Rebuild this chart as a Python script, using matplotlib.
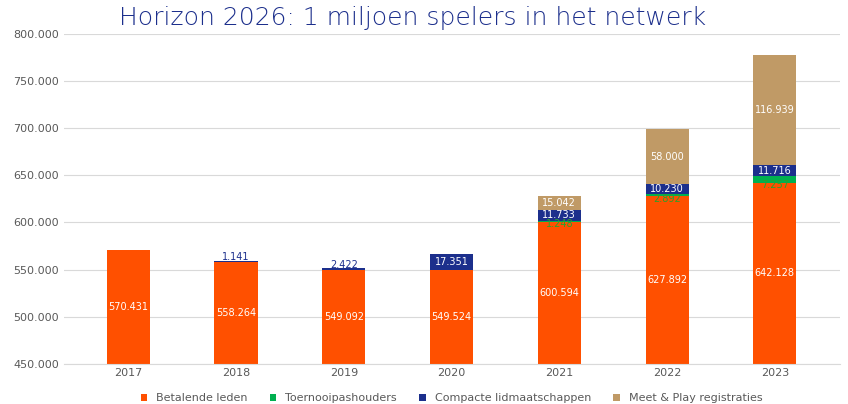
import matplotlib.pyplot as plt
import numpy as np

years = ['2017', '2018', '2019', '2020', '2021', '2022', '2023']
betalend = [570431, 558264, 549092, 549524, 600594, 627892, 642128]
toernooi = [0, 0, 0, 0, 1248, 2892, 7257]
compact = [0, 1141, 2422, 17351, 11733, 10230, 11716]
meetplay = [0, 0, 0, 0, 15042, 58000, 116939]

def fmt(v):
    return f"{v:,}".replace(',', '.')

colors = ['#ff5000', '#00b050', '#1c2f8c', '#c09a66']
fig, ax = plt.subplots(figsize=(8.48, 4.04), dpi=100)
fig.subplots_adjust(left=0.075, right=0.99, top=0.915, bottom=0.1)
x = np.arange(len(years))
w = 0.4
base = 450000
bottoms = np.full(len(years), 0.0)
series = [('Betalende leden', betalend), ('Toernooipashouders', toernooi),
          ('Compacte lidmaatschappen', compact), ('Meet & Play registraties', meetplay)]
for i, (name, vals) in enumerate(series):
    vals = np.array(vals, dtype=float)
    ax.bar(x, vals, w, bottom=bottoms, color=colors[i], label=name, zorder=2)
    for j, v in enumerate(vals):
        if v == 0:
            continue
        if i == 0:
            y = (base + vals[j]) / 2
            ax.text(x[j], y, fmt(int(v)), ha='center', va='center', color='white', fontsize=7)
        elif i == 1:
            ax.text(x[j], bottoms[j] - 2500, fmt(int(v)), ha='center', va='center', color='#2ca02c', fontsize=7)
        elif i == 2:
            if v < 5000:
                ax.text(x[j], bottoms[j] + v + 3500, fmt(int(v)), ha='center', va='center', color='#1c2f8c', fontsize=7)
            else:
                ax.text(x[j], bottoms[j] + v / 2, fmt(int(v)), ha='center', va='center', color='white', fontsize=7)
        else:
            ax.text(x[j], bottoms[j] + v / 2, fmt(int(v)), ha='center', va='center', color='white', fontsize=7)
    bottoms += vals

ax.set_ylim(450000, 800000)
ax.set_yticks(range(450000, 800001, 50000))
ax.set_yticklabels([fmt(t) for t in range(450000, 800001, 50000)], fontsize=8, color='#595959')
ax.set_xticks(x)
ax.set_xticklabels(years, fontsize=8, color='#595959')
ax.set_xlim(-0.6, 6.6)
ax.grid(axis='y', color='#d9d9d9', linewidth=0.8, zorder=0)
for s in ['top', 'right', 'left']:
    ax.spines[s].set_visible(False)
ax.spines['bottom'].set_color('#d9d9d9')
ax.tick_params(length=0)
ax.legend(loc='upper center', bbox_to_anchor=(0.5, -0.06), ncol=4, frameon=False,
          fontsize=8, handlelength=0.6, handleheight=0.6, labelcolor='#595959')
fig.text(0.14, 0.955, 'Horizon 2026: 1 miljoen spelers in het netwerk', fontsize=18,
         color='#1c2f8c', ha='left', va='center', fontweight='light')
fig.savefig('out.png')
